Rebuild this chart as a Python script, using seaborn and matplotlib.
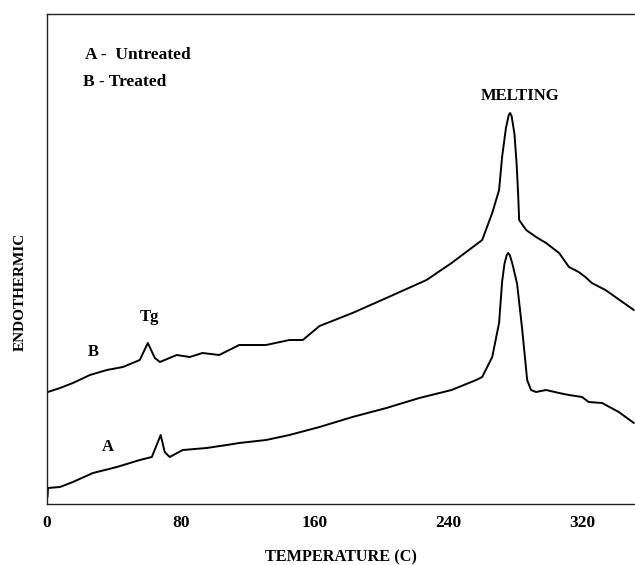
import matplotlib
matplotlib.use("Agg")
import matplotlib.pyplot as plt
import seaborn as sns
import pandas as pd

# Curve B (treated) - temperature (C) and heat-flow signal (arbitrary units)
temp_b = [0.5, 7.8, 15.5, 25.7, 35.8, 45.4, 55.5, 60.3, 64.5, 67.5, 77.6, 85.4, 93, 103,
          115, 131, 145, 153, 163, 182.7, 203, 227, 242, 260.3, 266.3, 270.4, 272.2, 274.5,
          276.2, 277, 277.9, 279.6, 280.9, 281.8, 282.4, 286.6, 292.5, 298.5, 306.3, 312.2,
          318, 322, 325.9, 334, 340, 351]
sig_b = [112, 116, 121, 129, 134, 137, 144, 161, 146, 142, 149, 147, 151, 149,
         159, 159, 164, 164, 178, 191, 206, 224, 241, 264, 291, 314, 347, 376,
         389, 391, 388, 370, 340, 310, 284, 274, 267, 261, 251, 237,
         232, 227, 221, 214, 207, 194]

# Curve A (untreated)
temp_a = [0.3, 0.6, 7.8, 15.5, 27.5, 41.8, 55.5, 62.7, 68, 70.4, 73.4, 81.2, 95.5, 107.5,
          115, 131, 145, 163, 182.7, 203, 222.7, 242, 256.7, 260.3, 266.3, 270.4, 272.2,
          273.6, 275, 275.8, 276.8, 278.4, 281.2, 284.2, 287.2, 289.5, 292.5, 298.5, 306.3,
          312.2, 320, 324, 332, 342, 351]
sig_a = [7, 16, 17, 22, 31, 37, 44, 47, 69, 52, 47, 54, 56, 59,
         61, 64, 69, 77, 87, 96, 106, 114, 124, 127, 147, 181, 222,
         240, 249, 251, 249, 240, 220, 175, 124, 114, 112, 114, 111,
         109, 107, 102, 101, 92, 81]

x_ticks = [0, 80, 160, 240, 320]

df = pd.concat([
    pd.DataFrame({"T": temp_b, "S": sig_b, "run": "B"}),
    pd.DataFrame({"T": temp_a, "S": sig_a, "run": "A"}),
])

sns.set_theme(style="white")
plt.rcParams["font.family"] = ["Liberation Serif", "DejaVu Serif"]
plt.rcParams["font.weight"] = "bold"

fig = plt.figure(figsize=(6.35, 5.65), dpi=100)
ax = fig.add_axes([47 / 635, 1 - 504 / 565, 1 - 47 / 635, (504 - 14) / 565])

sns.lineplot(data=df, x="T", y="S", units="run", estimator=None, sort=False,
             color="black", linewidth=1.4, ax=ax, legend=False)

ax.set_xlim(0, 351.7)
ax.set_ylim(0, 490)
ax.set_xticks(x_ticks)
ax.set_xticklabels([str(t) for t in x_ticks], fontsize=12.5, fontweight="bold")
ax.set_yticks([])
ax.set_xlabel("")
ax.set_ylabel("")
ax.tick_params(axis="x", direction="in", length=4, width=0.8, pad=8, colors="black")

for side in ["left", "bottom", "top"]:
    ax.spines[side].set_visible(True)
    ax.spines[side].set_color("#222222")
    ax.spines[side].set_linewidth(1.0)
ax.spines["right"].set_visible(False)

tkw = dict(fontweight="bold", color="black")
ax.text(22.7, 449, "A -  Untreated", ha="left", va="center", fontsize=12.5, **tkw)
ax.text(21.5, 422, "B - Treated", ha="left", va="center", fontsize=12.5, **tkw)
ax.text(283, 408, "MELTING", ha="center", va="center", fontsize=12, **tkw)
ax.text(61.5, 187, "Tg", ha="center", va="center", fontsize=12, **tkw)
ax.text(27.5, 152, "B", ha="center", va="center", fontsize=12, **tkw)
ax.text(36.4, 57, "A", ha="center", va="center", fontsize=12, **tkw)

fig.text(341 / 635, 1 - 557 / 565, "TEMPERATURE (C)", ha="center", va="center",
         fontsize=11.7, **tkw)
fig.text(20 / 635, 1 - 292 / 565, "ENDOTHERMIC", ha="center", va="center",
         rotation=90, fontsize=11, **tkw)

fig.savefig("out.png", dpi=100, facecolor="white")
